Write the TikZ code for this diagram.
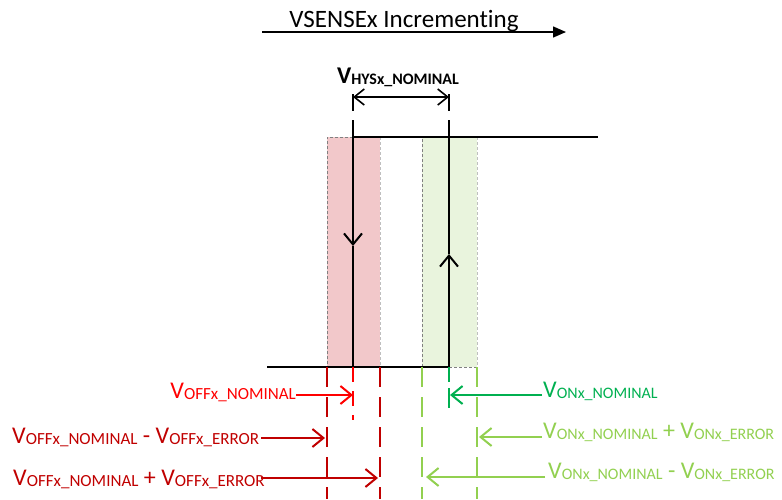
\documentclass[tikz,border=0pt]{standalone}
\usepackage{fontspec}
\setmainfont[Ligatures=NoCommon]{Carlito}
\usetikzlibrary{arrows.meta,positioning}
\definecolor{offnom}{HTML}{FF0000}
\definecolor{offerr}{HTML}{C00000}
\definecolor{onnom}{HTML}{00B050}
\definecolor{onerr}{HTML}{92D050}
\definecolor{offband}{HTML}{F2C8CA}
\definecolor{onband}{HTML}{E9F4DD}

% voltage name with a lowered subscript
\newcommand{\volt}[2][17]{V\raisebox{-1.5pt}{\fontsize{#1}{19}\selectfont #2}}

\begin{document}
\begin{tikzpicture}[
  x=1pt, y=-1pt,
  line/.style={line width=2pt},
  barb/.style={line width=2pt, -{Straight Barb[length=11pt,width=18pt]}},
  band/.style={draw=gray, line width=0.8pt, dash pattern=on 3pt off 2pt},
  guide/.style={line width=2.2pt, dash pattern=on 20pt off 10pt},
  shortguide/.style={line width=2.2pt, dash pattern=on 15pt off 9pt},
  lbl/.style={font=\fontsize{24}{28}\selectfont, inner sep=0pt},
]
  \useasboundingbox (0,0) rectangle (782,499);

  % title
  \node[lbl, font=\fontsize{25}{29}\selectfont, anchor=base] (title) at (404,27) {VSENSEx Incrementing};
  \coordinate (incfrom) at (262,32);
  \coordinate (incto) at (566,32);
  \draw[line width=1.4pt, -{Triangle[length=13pt,width=11pt]}] (incfrom) -- (incto);

  % tolerance bands
  \fill[offband] (327,137) rectangle (380,367);
  \fill[onband] (422,137) rectangle (477,367);
  \draw[band] (353,137) -- (327,137) -- (327,367);
  \draw[band, draw=gray!50] (380,137) -- (380,367);
  \draw[band] (422,367) -- (422,137) -- (449,137);
  \draw[band, draw=gray!50] (477,137) -- (477,367);
  \draw[band] (449,367) -- (477,367);

  % hysteresis loop
  \coordinate (offtop) at (353,120);
  \coordinate (offmid) at (353,246);
  \coordinate (offbot) at (353,367);
  \coordinate (ontop) at (449,120);
  \coordinate (onmid) at (449,254);
  \coordinate (onbot) at (449,367);
  \coordinate (highend) at (598,137);
  \coordinate (lowend) at (267,367);
  \draw[line] (offtop |- highend) -- (highend);
  \draw[line] (lowend) -- (onbot);
  \draw[barb] (offtop) -- (offmid);
  \draw[line] (offmid) -- (offbot);
  \draw[barb] (onbot) -- (onmid);
  \draw[line] (onmid) -- (ontop);

  % hysteresis width
  \node[lbl, font=\fontsize{24}{28}\selectfont\bfseries, anchor=base] (hys) at (398,83)
    {V\raisebox{-1.5pt}{\fontsize{16}{18}\selectfont\bfseries HYSx\_NOMINAL}};
  \coordinate (hysl) at (353,97);
  \coordinate (hysr) at (449,97);
  \draw[line width=1.6pt] (353,94) -- (353,111);
  \draw[line width=1.6pt] (449,94) -- (449,111);
  \draw[line width=1.6pt, {Straight Barb[length=10pt,width=16pt]}-{Straight Barb[length=10pt,width=16pt]}] (hysl) -- (hysr);

  % threshold guides
  \draw[guide, offerr] (327,367) -- (327,499);
  \draw[guide, offerr] (380,367) -- (380,499);
  \draw[shortguide, offnom] (353,367) -- (353,420);
  \draw[guide, onerr] (422,367) -- (422,499);
  \draw[guide, onerr] (477,367) -- (477,499);
  \draw[shortguide, onnom] (449,367) -- (449,408);

  % falling thresholds
  \node[lbl, text=offnom, anchor=base east] (offnomlbl) at (296,398) {\volt{OFFx\_NOMINAL}};
  \node[lbl, text=offerr, anchor=base west] (offminus) at (12,443) {\volt{OFFx\_NOMINAL} - \volt{OFFx\_ERROR}};
  \node[lbl, text=offerr, anchor=base west] (offplus) at (13,485) {\volt{OFFx\_NOMINAL} + \volt{OFFx\_ERROR}};
  \coordinate (offnomtip) at (353,395);
  \coordinate (offminustip) at (325,438);
  \coordinate (offplustip) at (378,478);
  \draw[barb, offnom] (offnomlbl.east |- offnomtip) -- (offnomtip);
  \draw[barb, offerr] ([xshift=2pt]offminus.east |- offminustip) -- (offminustip);
  \draw[barb, offerr] ([xshift=-4pt]offplus.east |- offplustip) -- (offplustip);

  % rising thresholds
  \node[lbl, text=onnom, anchor=base west] (onnomlbl) at (543,397) {\volt[16]{ONx\_NOMINAL}};
  \node[lbl, text=onerr, anchor=base west] (onplus) at (543,438) {\volt[16]{ONx\_NOMINAL} + \volt[16]{ONx\_ERROR}};
  \node[lbl, text=onerr, anchor=base west] (onminus) at (548,478) {\volt[16]{ONx\_NOMINAL} - \volt[16]{ONx\_ERROR}};
  \coordinate (onnomtip) at (450,395);
  \coordinate (onplustip) at (479,437);
  \coordinate (onminustip) at (426,477);
  \draw[line, onnom] (449,388) -- (449,408);
  \draw[barb, onnom] ([xshift=-1pt]onnomlbl.west |- onnomtip) -- (onnomtip);
  \draw[barb, onerr] ([xshift=-1pt]onplus.west |- onplustip) -- (onplustip);
  \draw[barb, onerr] ([xshift=-3pt]onminus.west |- onminustip) -- (onminustip);
\end{tikzpicture}
\end{document}
